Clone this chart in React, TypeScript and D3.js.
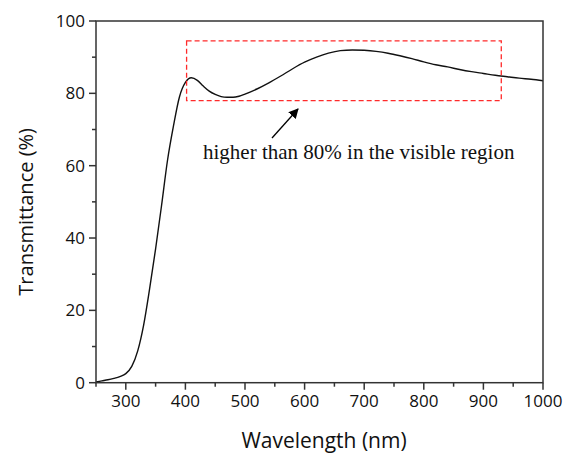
import React from "react";
import * as d3 from "d3";

const wavelengths = [250, 260, 270, 280, 290, 300, 310, 320, 330, 340, 350, 360, 370, 380, 390, 400, 410, 420, 430, 440, 450, 460, 470, 480, 490, 500, 520, 540, 560, 580, 600, 620, 640, 660, 680, 700, 720, 740, 760, 780, 800, 820, 840, 860, 880, 900, 920, 940, 960, 980, 1000];
const transmittance = [0.2, 0.5, 0.8, 1.2, 1.7, 2.5, 4.5, 8.8, 16, 26, 37, 49, 61.5, 71, 79, 83, 84.3, 83.6, 82, 80.6, 79.7, 79.1, 78.9, 78.9, 79.2, 79.8, 81.2, 82.9, 84.8, 86.8, 88.6, 90, 91.1, 91.8, 92.0, 91.9, 91.6, 91.1, 90.4, 89.6, 88.7, 87.9, 87.3, 86.6, 86.0, 85.5, 85.0, 84.6, 84.2, 83.9, 83.5];
const xMajorTicks = [300, 400, 500, 600, 700, 800, 900, 1000];
const xMinorTicks = [250, 350, 450, 550, 650, 750, 850, 950];
const yMajorTicks = [0, 20, 40, 60, 80, 100];
const yMinorTicks = [10, 30, 50, 70, 90];
const boxRange = { x0: 402, x1: 930, y0: 78, y1: 94.5 };
const annotation = "higher than 80% in the visible region";
const xTitle = "Wavelength (nm)";
const yTitle = "Transmittance (%)";

export default function App() {
  const W = 573, H = 456;
  const left = 96, right = 543, top = 21, bottom = 382.7;
  const x = d3.scaleLinear().domain([250, 1000]).range([left, right]);
  const y = d3.scaleLinear().domain([0, 100]).range([bottom, top]);
  const data = wavelengths.map((w, i) => [w, transmittance[i]] as [number, number]);
  const line = d3.line<[number, number]>().x(d => x(d[0])).y(d => y(d[1])).curve(d3.curveMonotoneX);
  const axisColor = "#333";
  const font = "'Open Sans', sans-serif";
  return (
    <svg width={W} height={H} style={{ position: "absolute", left: 0, top: 0, background: "#fff" }}>
      <defs>
        <marker id="ah" viewBox="0 0 10 10" refX="9" refY="5" markerWidth="10" markerHeight="10" orient="auto" markerUnits="userSpaceOnUse">
          <path d="M0,0 L10,5 L0,10 z" fill="#000" />
        </marker>
      </defs>
      <path d={line(data) || ""} fill="none" stroke="#111" strokeWidth={1.4} />
      <rect x={left} y={top} width={right - left} height={bottom - top} fill="none" stroke={axisColor} strokeWidth={1.5} />
      {xMajorTicks.map(t => (
        <g key={"xM" + t}>
          <line x1={x(t)} x2={x(t)} y1={bottom} y2={bottom + 7} stroke={axisColor} strokeWidth={1.5} />
          <text x={x(t)} y={bottom + 24} textAnchor="middle" fontFamily={font} fontSize={17} fill="#111">{t}</text>
        </g>
      ))}
      {xMinorTicks.map(t => (
        <line key={"xm" + t} x1={x(t)} x2={x(t)} y1={bottom} y2={bottom + 4} stroke={axisColor} strokeWidth={1.5} />
      ))}
      {yMajorTicks.map(t => (
        <g key={"yM" + t}>
          <line x1={left - 7} x2={left} y1={y(t)} y2={y(t)} stroke={axisColor} strokeWidth={1.5} />
          <text x={left - 11} y={y(t) + 6} textAnchor="end" fontFamily={font} fontSize={17} fill="#111">{t}</text>
        </g>
      ))}
      {yMinorTicks.map(t => (
        <line key={"ym" + t} x1={left - 4} x2={left} y1={y(t)} y2={y(t)} stroke={axisColor} strokeWidth={1.5} />
      ))}
      <rect x={x(boxRange.x0)} y={y(boxRange.y1)} width={x(boxRange.x1) - x(boxRange.x0)} height={y(boxRange.y0) - y(boxRange.y1)}
        fill="none" stroke="#ff2a2a" strokeWidth={1.3} strokeDasharray="5,3" />
      <line x1={272} y1={138} x2={298} y2={109} stroke="#000" strokeWidth={1.3} markerEnd="url(#ah)" />
      <text x={203} y={159} fontFamily="'Liberation Serif', 'Times New Roman', serif" fontSize={21} fill="#111">{annotation}</text>
      <text x={324} y={448} textAnchor="middle" fontFamily={font} fontSize={21} fill="#111">{xTitle}</text>
      <text transform={`translate(33, ${(top + bottom) / 2 + 10}) rotate(-90)`} textAnchor="middle" fontFamily={font} fontSize={20} fill="#111">{yTitle}</text>
    </svg>
  );
}
